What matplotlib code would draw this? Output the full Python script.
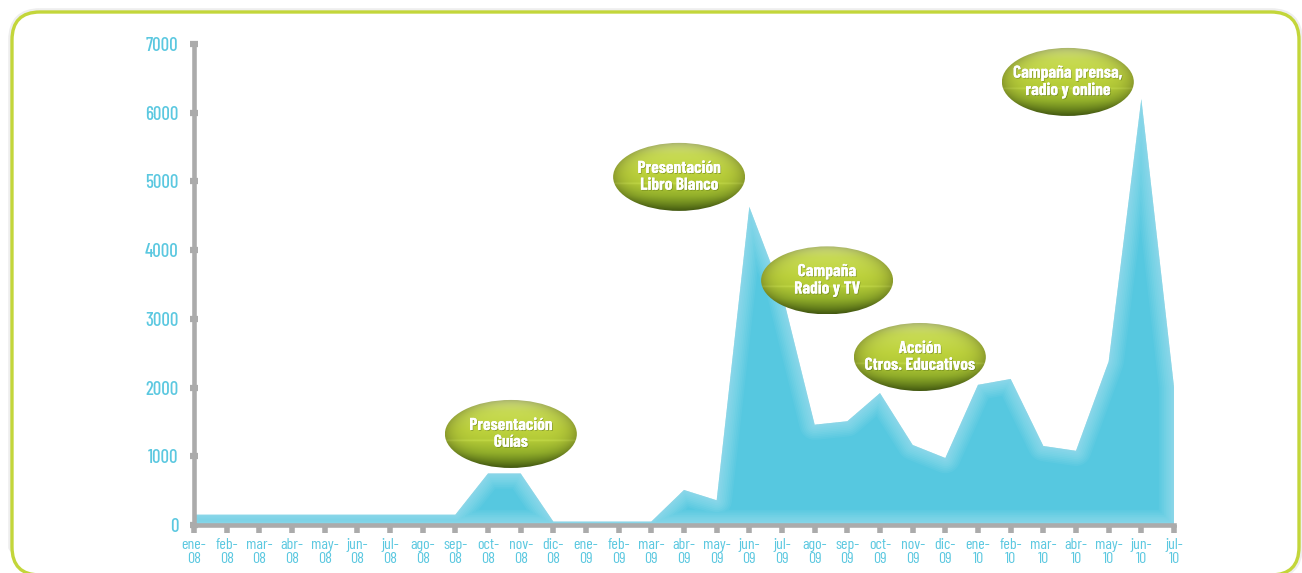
import numpy as np
import matplotlib
matplotlib.use('Agg')
import matplotlib.pyplot as plt
from matplotlib.patches import Ellipse, FancyBboxPatch, Polygon
from matplotlib.colors import to_rgb
import matplotlib.patheffects as pe

# ---------------- data ----------------
months = ['ene', 'feb', 'mar', 'abr', 'may', 'jun', 'jul', 'ago', 'sep', 'oct', 'nov', 'dic',
          'ene', 'feb', 'mar', 'abr', 'may', 'jun', 'jul', 'ago', 'sep', 'oct', 'nov', 'dic',
          'ene', 'feb', 'mar', 'abr', 'may', 'jun', 'jul']
years = ['08'] * 12 + ['09'] * 12 + ['10'] * 7
values = [150, 150, 150, 150, 150, 150, 150, 150, 150, 750, 750, 50,
          50, 50, 50, 510, 360, 4630, 3380, 1460, 1510, 1920, 1165, 975,
          2040, 2125, 1150, 1080, 2380, 6200, 2010]
y_ticks = [0, 1000, 2000, 3000, 4000, 5000, 6000, 7000]

ann_labels = ['Presentación\nGuías', 'Presentación\nLibro Blanco', 'Campaña\nRadio y TV',
              'Acción\nCtros. Educativos', 'Campaña prensa,\nradio y online']
ann_x = [9.7, 14.85, 19.38, 22.22, 26.75]
ann_y = [1325, 5066, 3560, 2445, 6448]

# ---------------- styling ----------------
W, H = 1302, 573
CYAN = '#5bc8e0'
AREA = '#56c8e0'
GRAY = '#ababab'
COND = ['Barlow Condensed', 'DejaVu Sans']

fig = plt.figure(figsize=(W / 100, H / 100), dpi=100)

# background / border
bg = fig.add_axes([0, 0, 1, 1])
bg.set_xlim(0, W)
bg.set_ylim(H, 0)
bg.axis('off')
shadow = FancyBboxPatch((12, 12), 1287, 563, boxstyle='round,pad=0,rounding_size=28',
                        fc='none', ec='#eeeeee', lw=5.5, zorder=0)
bg.add_patch(shadow)
border = FancyBboxPatch((12, 12), 1287, 563, boxstyle='round,pad=0,rounding_size=28',
                        fc='white', ec='#c3d63a', lw=2.4, zorder=1)
bg.add_patch(border)

# main axes
ax = fig.add_axes([194 / W, 1 - 525 / H, (1174 - 194) / W, (525 - 44) / H])
ax.patch.set_alpha(0)
x = np.arange(len(values))

verts = [(xi, vi) for xi, vi in zip(x, values)] + [(x[-1], 0), (x[0], 0)]
area = Polygon(verts, closed=True, fc=AREA, ec='none', zorder=2)
ax.add_patch(area)
for lw in np.arange(2, 24, 2.5):
    glow = Polygon(verts, closed=True, fill=False, ec='white', lw=lw, alpha=0.045,
                   joinstyle='round', zorder=3)
    ax.add_patch(glow)
    glow.set_clip_path(area)

ax.set_xlim(0, len(values) - 1)
ax.set_ylim(0, 7000)

for s in ['top', 'right']:
    ax.spines[s].set_visible(False)
for s in ['left', 'bottom']:
    ax.spines[s].set_color(GRAY)
    ax.spines[s].set_linewidth(3.3)
    ax.spines[s].set_zorder(4)

ax.set_xticks(x)
ax.set_xticklabels([f'{m}-\n{y}' for m, y in zip(months, years)],
                   family=COND, fontsize=11.5, weight=400, color=CYAN, linespacing=1.0)
ax.set_yticks(y_ticks)
ax.set_yticklabels([str(v) for v in y_ticks], family=COND, fontsize=13.5, weight=500, color=CYAN)
ax.tick_params(axis='x', direction='out', length=5.5, width=4, color=GRAY, pad=4)
ax.tick_params(axis='y', direction='inout', length=6, width=4.5, color=GRAY, pad=8)


# ellipse gradient image
def ellipse_img(n=140, m=280):
    v = np.linspace(0, 1, n)[:, None]
    u = np.linspace(-1, 1, m)[None, :]
    stops = [(0.0, '#dbe88e'), (0.18, '#cadd55'), (0.45, '#bdd23c'), (0.6, '#b3ca37'),
             (0.78, '#94b12b'), (1.0, '#587516')]
    pos = [s[0] for s in stops]
    cols = np.array([to_rgb(s[1]) for s in stops])
    img = np.zeros((n, m, 3))
    for c in range(3):
        img[:, :, c] = np.interp(v, pos, cols[:, c]) * np.ones_like(u)
    r = np.sqrt(u ** 2 + (2 * v - 1) ** 2)
    dark = 1 - 0.25 * np.clip(r, 0, 1) ** 6
    img *= dark[:, :, None]
    line = 0.06 * np.exp(-((v - 0.6) / 0.012) ** 2) * np.ones_like(u)
    img += line[:, :, None]
    return np.clip(img, 0, 1)


IMG = ellipse_img()
EW, EH = 4.04, 990
for lab, cx, cy in zip(ann_labels, ann_x, ann_y):
    ell = Ellipse((cx, cy), EW, EH, fc='none', ec='none', zorder=5)
    ax.add_patch(ell)
    im = ax.imshow(IMG, extent=[cx - EW / 2, cx + EW / 2, cy - EH / 2, cy + EH / 2],
                   origin='upper', aspect='auto', zorder=5, interpolation='bilinear')
    im.set_clip_path(ell)
    ax.text(cx, cy, lab, ha='center', va='center', color='white', fontsize=12.5,
            fontweight='bold', family=COND, linespacing=1.15, zorder=6,
            path_effects=[pe.withSimplePatchShadow(offset=(0.6, -0.6), shadow_rgbFace='#4a6010',
                                                   alpha=0.45), pe.Normal()])

ax.set_xlim(0, len(values) - 1)
ax.set_ylim(0, 7000)

fig.savefig('out.png', dpi=100)
